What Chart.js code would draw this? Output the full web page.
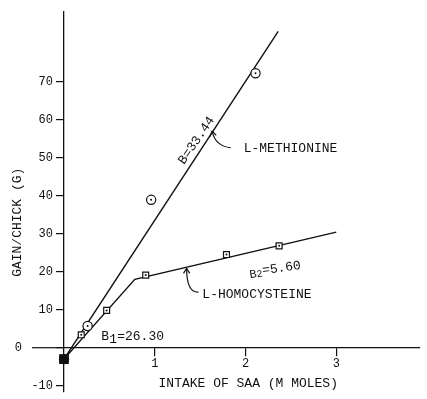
<!DOCTYPE html>
<html>
<head>
<meta charset="utf-8">
<script src="https://cdn.jsdelivr.net/npm/chart.js@4.4.1/dist/chart.umd.min.js"></script>
<style>
  html, body { margin:0; padding:0; background:#fff; }
  #wrap { width:427px; height:399px; }
</style>
</head>
<body>
<div id="wrap"><canvas id="c" width="427" height="399"></canvas></div>
<script>
// ── data: gain per chick (g) vs intake of SAA (m moles) ─────────────────────
const MET_X = [0, 0.26, 0.96, 2.11];
const MET_Y = [-3, 5.7, 38.9, 72.2];
const HCY_X = [0, 0.19, 0.47, 0.90, 1.79, 2.37];
const HCY_Y = [-3, 3.4, 9.8, 19.1, 24.5, 26.8];

// fitted lines
const MET_FIT_X = [0, 2.36];
const MET_FIT_Y = [-3, 83.2];
const HCY_FIT_X = [0, 0.78, 3.0];
const HCY_FIT_Y = [-3, 18, 30.4];

const X_TICKS = [1, 2, 3];
const Y_TICKS = [-10, 0, 10, 20, 30, 40, 50, 60, 70];

const FONT = '"Liberation Mono", "DejaVu Sans Mono", monospace';
const INK  = "#111";

const pts = (xs, ys) => xs.map((x, i) => ({ x, y: ys[i] }));

// ── annotations (drawn on top) ──────────────────────────────────────────────
function text(ctx, s, X, Y, size, align = "left", rot = 0, base = "middle") {
  ctx.save();
  ctx.translate(X, Y); ctx.rotate(rot * Math.PI / 180);
  ctx.font = `${size}px ${FONT}`; ctx.textAlign = align; ctx.textBaseline = base;
  ctx.fillText(s, 0, 0);
  ctx.restore();
}

function arrow(ctx, tip, ctrl, end) {
  ctx.beginPath(); ctx.moveTo(end[0], end[1]);
  ctx.quadraticCurveTo(ctrl[0], ctrl[1], tip[0], tip[1]); ctx.stroke();
  const a = Math.atan2(ctrl[1] - tip[1], ctrl[0] - tip[0]);
  ctx.beginPath();
  for (const d of [-0.55, 0.55]) { ctx.moveTo(tip[0], tip[1]); ctx.lineTo(tip[0] + 6 * Math.cos(a + d), tip[1] + 6 * Math.sin(a + d)); }
  ctx.stroke();
}

const notes = {
  id: "notes",
  afterDraw(chart) {
    const { ctx, chartArea, scales: { x, y } } = chart;
    const P = (vx, vy) => [x.getPixelForValue(vx), y.getPixelForValue(vy)];
    ctx.save();
    ctx.fillStyle = INK; ctx.strokeStyle = INK; ctx.lineWidth = 1.2;

    // x axis continues left of the y axis, with its own "0"
    ctx.beginPath(); ctx.moveTo(32, y.getPixelForValue(0)); ctx.lineTo(chartArea.left, y.getPixelForValue(0)); ctx.stroke();
    text(ctx, "0", chartArea.left - 42, y.getPixelForValue(0), 12, "right");

    // axis titles
    text(ctx, "INTAKE OF SAA (M MOLES)", x.getPixelForValue(2.03), y.getPixelForValue(-9.4), 13, "center");
    text(ctx, "GAIN/CHICK (G)", chartArea.left - 46, y.getPixelForValue(33), 13, "center", -90);

    // slope labels
    const [bx, by] = P(1.46, 54.5);
    text(ctx, "B=33.44", bx, by, 13, "center", -56);

    const [b1x, b1y] = P(0.41, 2.0);
    text(ctx, "B", b1x, b1y, 13, "left", 0, "alphabetic");
    text(ctx, "1", b1x + 8, b1y + 3, 13, "left", 0, "alphabetic");
    text(ctx, "=26.30", b1x + 16, b1y, 13, "left", 0, "alphabetic");

    const [b2x, b2y] = P(2.05, 18.3);
    ctx.save(); ctx.translate(b2x, b2y); ctx.rotate(-8 * Math.PI / 180);
    text(ctx, "B", 0, 0, 12, "left", 0, "alphabetic");
    text(ctx, "2", 7, 0, 10, "left", 0, "alphabetic");
    text(ctx, "=5.60", 13, -2, 13, "left", 0, "alphabetic");
    ctx.restore();

    // series labels with curved pointers
    arrow(ctx, P(1.632, 57.0), P(1.665, 53.0), P(1.838, 52.6));
    const [mx, my] = P(1.98, 52.4);
    text(ctx, "L-METHIONINE", mx, my, 13);

    arrow(ctx, P(1.351, 20.9), P(1.351, 14.4), P(1.481, 14.6));
    const [hx, hy] = P(1.524, 14.0);
    text(ctx, "L-HOMOCYSTEINE", hx, hy, 13);

    ctx.restore();
  }
};

// ── chart ───────────────────────────────────────────────────────────────────
const axisGrid = { drawOnChartArea:false, drawTicks:true, tickLength:8, color:INK, lineWidth:1.2 };

new Chart(document.getElementById("c"), {
  type: "scatter",
  data: {
    datasets: [
      { // centre dots of the open markers
        data: [...pts(MET_X, MET_Y), ...pts(HCY_X, HCY_Y)],
        pointRadius: 1, pointBackgroundColor: INK, pointBorderWidth: 0, clip: false,
      },
      { label: "L-Homocysteine", data: pts(HCY_X, HCY_Y), pointStyle: "rect", clip: false,
        pointRadius: c => c.dataIndex === 0 ? 6 : 4.2,
        pointBackgroundColor: c => c.dataIndex === 0 ? INK : "#fff",
        pointBorderColor: INK, pointBorderWidth: 1.2 },
      { label: "L-Methionine", data: pts(MET_X, MET_Y), pointStyle: "circle", clip: false,
        pointRadius: 4.6, pointBackgroundColor: "#fff", pointBorderColor: INK, pointBorderWidth: 1.2 },
      { data: pts(MET_FIT_X, MET_FIT_Y), showLine: true, pointRadius: 0, borderColor: INK, borderWidth: 1.4 },
      { data: pts(HCY_FIT_X, HCY_FIT_Y), showLine: true, pointRadius: 0, borderColor: INK, borderWidth: 1.4 },
    ],
  },
  options: {
    responsive: false, animation: false, events: [],
    layout: { padding: { top: 12, left: 0, right: 0, bottom: 0 } },
    plugins: { legend: { display:false }, tooltip: { enabled:false } },
    scales: {
      x: {
        type: "linear", min: 0, max: 3.92, position: { y: 0 },
        afterBuildTicks: s => { s.ticks = X_TICKS.map(v => ({ value: v })); },
        grid: axisGrid, border: { color: INK, width: 1.3 },
        ticks: { color: INK, padding: 1, maxRotation: 0, font: { family: FONT, size: 12 } },
      },
      y: {
        type: "linear", min: -11.6, max: 88.3, position: "left",
        afterBuildTicks: s => { s.ticks = Y_TICKS.map(v => ({ value: v })); },
        afterFit: s => { s.width = 64; s.paddingTop = 0; s.paddingBottom = 0; },
        grid: axisGrid, border: { color: INK, width: 1.3 },
        ticks: { color: INK, padding: 3, font: { family: FONT, size: 12 }, callback: v => v === 0 ? "" : v },
      },
    },
  },
  plugins: [notes],
});
</script>
</body>
</html>
